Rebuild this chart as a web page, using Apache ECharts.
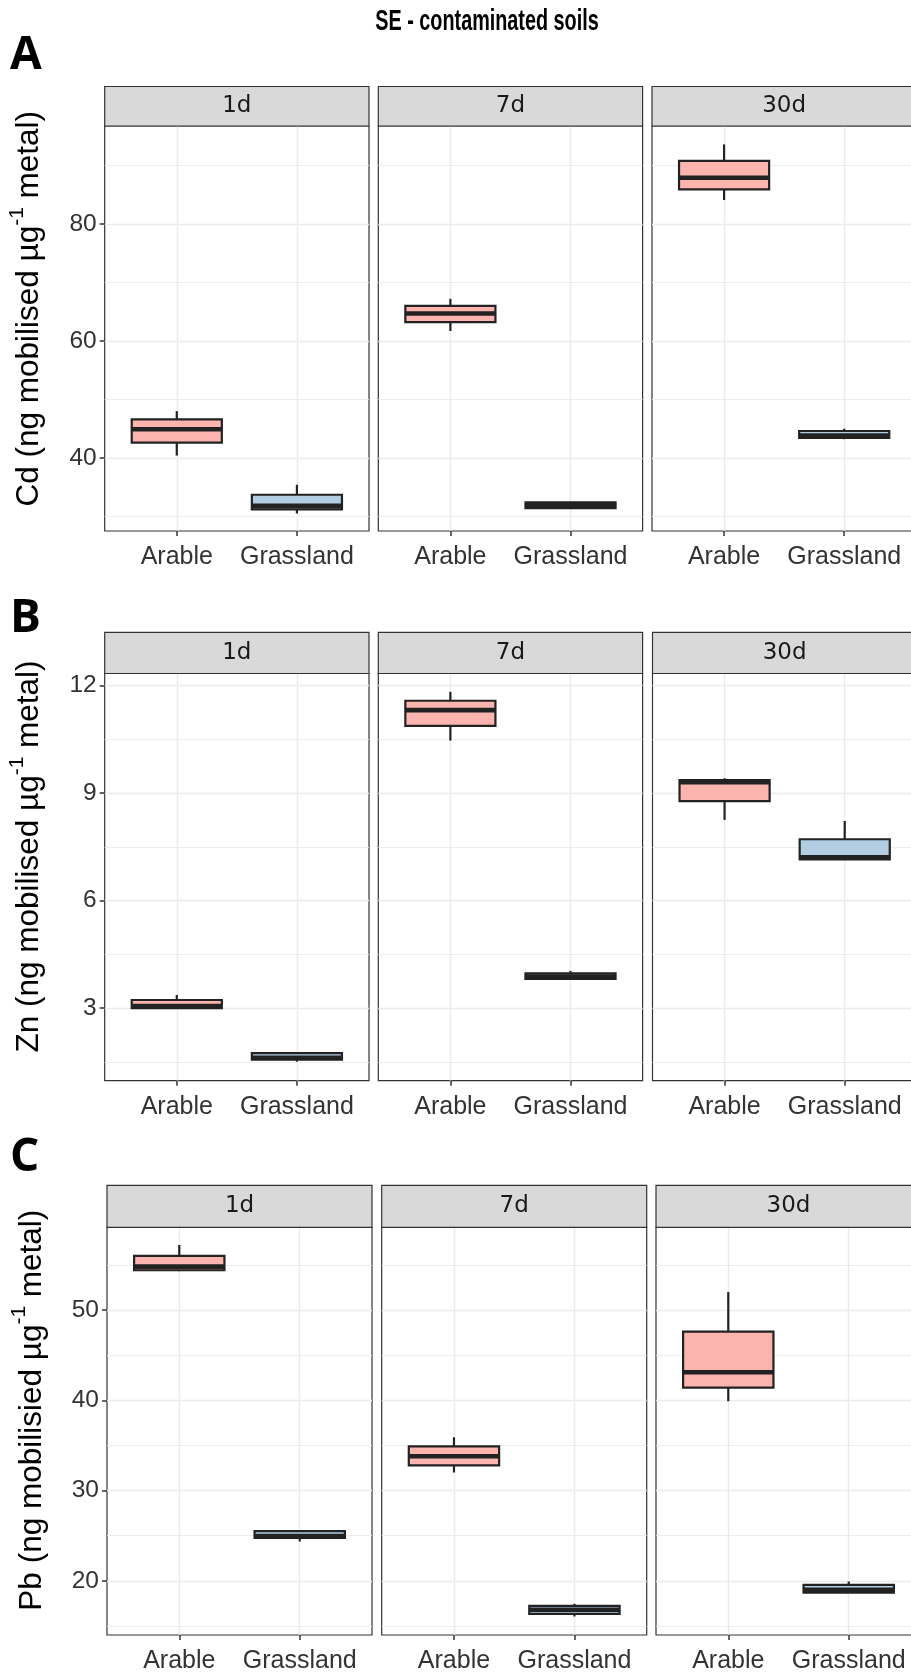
<!DOCTYPE html>
<html>
<head>
<meta charset="utf-8">
<title>SE - contaminated soils</title>
<script src="https://cdn.jsdelivr.net/npm/echarts@6/dist/echarts.min.js"></script>
<style>
html, body { margin: 0; padding: 0; background: #fff; }
#chart { width: 911px; height: 1675px; }
</style>
</head>
<body>
<div id="chart"></div>
<script>
// facets and groups
const days = ['1d', '7d', '30d'];
const landUse = ['Arable', 'Grassland'];

// box stats per day (1d, 7d, 30d): [min, Q1, median, Q3, max]
const cdArable = [[40.4, 42.6, 44.9, 46.6, 48.0], [61.7, 63.2, 64.7, 66.0, 67.2], [84.1, 85.9, 87.9, 90.8, 93.6]];
const cdGrass = [[30.5, 31.2, 31.8, 33.7, 35.4], [31.3, 31.4, 31.9, 32.4, 32.5], [43.2, 43.4, 43.8, 44.6, 45.0]];
const znArable = [[3.0, 3.0, 3.06, 3.23, 3.37], [10.46, 10.87, 11.31, 11.57, 11.82], [8.25, 8.77, 9.30, 9.36, 9.41]];
const znGrass = [[1.51, 1.57, 1.62, 1.75, 1.76], [3.80, 3.82, 3.88, 3.97, 4.04], [7.15, 7.15, 7.21, 7.71, 8.22]];
const pbArable = [[54.3, 54.4, 54.8, 56.0, 57.2], [32.0, 32.8, 33.8, 34.9, 35.9], [39.9, 41.4, 43.1, 47.6, 52.0]];
const pbGrass = [[24.35, 24.75, 24.95, 25.5, 25.5], [16.05, 16.35, 16.8, 17.23, 17.45], [18.7, 18.7, 19.0, 19.56, 19.93]];

// y axis ticks (major labelled, minor grid only) and ranges
const cdTicks = [40, 60, 80];
const cdMinor = [30, 50, 70, 90];
const cdRange = [27.5, 96.75];
const znTicks = [3, 6, 9, 12];
const znMinor = [1.5, 4.5, 7.5, 10.5];
const znRange = [0.98, 12.33];
const pbTicks = [20, 30, 40, 50];
const pbMinor = [15, 25, 35, 45, 55];
const pbRange = [14.0, 59.16];

const rowData = [
    {letter: 'A', title: 'Cd (ng mobilised µg{sup|-1} metal)', arable: cdArable, grass: cdGrass, ticks: cdTicks, minor: cdMinor, range: cdRange},
    {letter: 'B', title: 'Zn (ng mobilised µg{sup|-1} metal)', arable: znArable, grass: znGrass, ticks: znTicks, minor: znMinor, range: znRange},
    {letter: 'C', title: 'Pb (ng mobilisied µg{sup|-1} metal)', arable: pbArable, grass: pbGrass, ticks: pbTicks, minor: pbMinor, range: pbRange}
];

// pixel layout of the three rows
const rowLayout = [
    {letterTop: 28, stripTop: 86.5, top: 126, bottom: 531, lefts: [104.7, 378.3, 652], width: 264.3},
    {letterTop: 591, stripTop: 632.3, top: 673.5, bottom: 1080.7, lefts: [104.7, 378.3, 652.5], width: 264.3},
    {letterTop: 1130, stripTop: 1185.3, top: 1227.3, bottom: 1635, lefts: [107, 381.7, 656], width: 265}
];

const fills = ['#FBB4AE', '#B3CDE3'];
const ink = '#222222';
const gridCol = '#EBEBEB';
const textCol = '#333333';
const sansFont = '"Liberation Sans", Arial, sans-serif';

function renderBox(params, api) {
    const x = api.value(0);
    const cat = Math.round(x) - 1;
    const lo = api.coord([x, api.value(1)]);
    const q1 = api.coord([x, api.value(2)]);
    const md = api.coord([x, api.value(3)]);
    const q3 = api.coord([x, api.value(4)]);
    const hi = api.coord([x, api.value(5)]);
    const half = api.size([0.75, 0])[0] / 2;
    const line = {stroke: ink, lineWidth: 2.2};
    return {
        type: 'group',
        children: [
            {type: 'line', shape: {x1: hi[0], y1: hi[1], x2: q3[0], y2: q3[1]}, style: line},
            {type: 'line', shape: {x1: q1[0], y1: q1[1], x2: lo[0], y2: lo[1]}, style: line},
            {type: 'rect', shape: {x: q3[0] - half, y: q3[1], width: 2 * half, height: q1[1] - q3[1]},
                style: {fill: fills[cat], stroke: ink, lineWidth: 2.2}},
            {type: 'line', shape: {x1: md[0] - half, y1: md[1], x2: md[0] + half, y2: md[1]},
                style: {stroke: ink, lineWidth: 4.6}}
        ]
    };
}

const option = {
    backgroundColor: '#ffffff',
    animation: false,
    title: [],
    graphic: [{
        // main heading, narrowed to match the condensed face of the original
        type: 'text', x: 487, y: 22, scaleX: 0.66, originX: 0, originY: 0,
        style: {text: 'SE - contaminated soils', font: 'bold 30px "Liberation Sans"', fill: '#000',
            textAlign: 'center', textVerticalAlign: 'middle'}
    }],
    grid: [],
    xAxis: [],
    yAxis: [],
    series: []
};

rowData.forEach(function (rd, r) {
    const lay = rowLayout[r];
    option.title.push({
        text: rd.letter, left: 5, top: lay.letterTop,
        textStyle: {fontSize: 46, fontWeight: 'bold', color: '#000', fontFamily: '"Open Sans", sans-serif'}
    });
    days.forEach(function (day, p) {
        const gi = option.grid.length;
        const left = lay.lefts[p];
        option.grid.push({
            left: left, top: lay.top, width: lay.width, height: lay.bottom - lay.top,
            show: true, backgroundColor: '#fff', borderColor: '#333', borderWidth: 1.2,
            containLabel: false, outerBoundsMode: 'none'
        });
        // strip
        option.graphic.push({
            type: 'rect', z: 10,
            shape: {x: left, y: lay.stripTop, width: lay.width, height: lay.top - lay.stripTop},
            style: {fill: '#D9D9D9', stroke: '#333', lineWidth: 1.2}
        });
        option.graphic.push({
            type: 'text', z: 11,
            x: left + lay.width / 2, y: (lay.stripTop + lay.top) / 2,
            style: {text: day, font: '23px "DejaVu Sans"', fill: '#1A1A1A', textAlign: 'center', textVerticalAlign: 'middle'}
        });
        option.xAxis.push({
            gridIndex: gi, type: 'value', min: 0.4, max: 2.6,
            axisLine: {show: false},
            axisTick: {show: true, customValues: [1, 2], length: 5, lineStyle: {color: '#333', width: 1.5}},
            axisLabel: {show: true, customValues: [1, 2], margin: 14, fontSize: 25, color: textCol, fontFamily: sansFont,
                formatter: function (v) { return landUse[Math.round(v) - 1]; }},
            splitLine: {show: true, lineStyle: {color: gridCol, width: 1.4}}
        });
        const yi = option.yAxis.length;
        option.yAxis.push({
            gridIndex: gi, type: 'value', min: rd.range[0], max: rd.range[1], position: 'left',
            axisLine: {show: false},
            axisTick: {show: p === 0, customValues: rd.ticks, length: 5, lineStyle: {color: '#333', width: 1.5}},
            axisLabel: {show: p === 0, customValues: rd.ticks, margin: 8, fontSize: 24.5, color: textCol, fontFamily: sansFont},
            splitLine: {show: true, lineStyle: {color: gridCol, width: 1.4}},
            name: p === 0 ? rd.title : '',
            nameLocation: 'middle', nameGap: 52,
            nameTextStyle: {
                fontSize: 31.5, color: '#000', fontFamily: sansFont, lineHeight: 46,
                padding: [0, 0, 0, lay.top - lay.stripTop],
                rich: {sup: {fontSize: 21, lineHeight: 21, verticalAlign: 'top', color: '#000', fontFamily: sansFont}}
            }
        });
        option.yAxis.push({
            gridIndex: gi, type: 'value', min: rd.range[0], max: rd.range[1], position: 'left',
            axisLine: {show: false},
            axisTick: {show: false, customValues: rd.minor},
            axisLabel: {show: false, customValues: rd.minor},
            splitLine: {show: true, lineStyle: {color: gridCol, width: 0.9}}
        });
        option.series.push({
            type: 'custom', xAxisIndex: gi, yAxisIndex: yi, z: 5,
            renderItem: renderBox,
            encode: {x: 0, y: [1, 2, 3, 4, 5]},
            data: [[1].concat(rd.arable[p]), [2].concat(rd.grass[p])]
        });
    });
});

const chart = echarts.init(document.getElementById('chart'), null, {renderer: 'canvas'});
chart.setOption(option);
</script>
</body>
</html>
